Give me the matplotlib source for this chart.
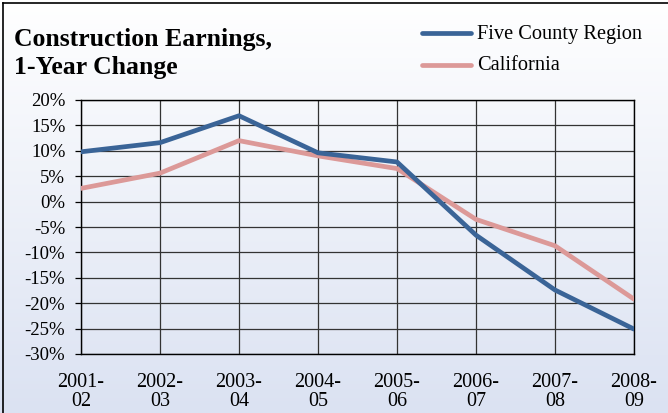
import numpy as np
import matplotlib
matplotlib.use("Agg")
import matplotlib.pyplot as plt
from matplotlib.lines import Line2D

categories = ["2001-\n02", "2002-\n03", "2003-\n04", "2004-\n05",
              "2005-\n06", "2006-\n07", "2007-\n08", "2008-\n09"]
five_county = [9.8, 11.6, 16.9, 9.6, 7.8, -6.6, -17.4, -25.1]
california = [2.6, 5.6, 12.0, 9.0, 6.5, -3.5, -8.7, -19.2]
yticks = [20, 15, 10, 5, 0, -5, -10, -15, -20, -25, -30]

plt.rcParams['font.family'] = ['Liberation Serif', 'DejaVu Serif']

W, H = 668, 413
fig = plt.figure(figsize=(W / 100, H / 100), dpi=100)

# gradient background
bg = fig.add_axes([0, 0, 1, 1], zorder=-10)
top = np.array([1.0, 1.0, 1.0])
bot = np.array([0xdb, 0xe2, 0xf2]) / 255.0
t = np.linspace(0, 1, 256)[:, None]
grad = top * (1 - t) + bot * t
bg.imshow(grad[:, None, :], aspect='auto', extent=[0, 1, 0, 1], origin='upper')
bg.set_xlim(0, 1); bg.set_ylim(0, 1)
bg.axis('off')
# frame lines at top and left
bg.add_line(Line2D([3 / W, 1], [1 - 3 / H, 1 - 3 / H], color='black', lw=1.2))
bg.add_line(Line2D([3 / W, 3 / W], [0, 1 - 3 / H], color='black', lw=1.2))

x0, x1 = 81, 634
y0, y1 = 100, 354
ax = fig.add_axes([x0 / W, 1 - y1 / H, (x1 - x0) / W, (y1 - y0) / H])
ax.patch.set_alpha(0)
x = np.arange(len(categories))
ax.plot(x, five_county, color='#3a6497', lw=3.4, solid_capstyle='round', zorder=4,
        label='Five County Region')
ax.plot(x, california, color='#dc9998', lw=3.4, solid_capstyle='round', zorder=3,
        label='California')
ax.set_xlim(0, len(categories) - 1)
ax.set_ylim(-30, 20)
ax.set_yticks(yticks)
ax.set_yticklabels([f"{v}%" for v in yticks], fontsize=13.5)
ax.set_xticks(x)
ax.set_xticklabels(categories, fontsize=14.5, linespacing=1.0)
ax.grid(True, color='#333333', lw=0.9)
ax.set_axisbelow(True)
ax.tick_params(axis='y', length=4.3, width=0.9, pad=7, direction='out')
ax.tick_params(axis='x', length=0, pad=13.5)
for s in ax.spines.values():
    s.set_color('black')
    s.set_linewidth(1.0)

fig.text(14 / W, 1 - 46 / H, "Construction Earnings,", fontsize=18.5,
         fontweight='bold', ha='left', va='baseline')
fig.text(14 / W, 1 - 74 / H, "1-Year Change", fontsize=18.5,
         fontweight='bold', ha='left', va='baseline')

# legend
for yy, ty, col, lab in [(32.5, 39, '#3a6497', 'Five County Region'),
                         (64.5, 70, '#dc9998', 'California')]:
    bg.add_line(Line2D([422 / W, 471 / W], [1 - yy / H, 1 - yy / H], color=col, lw=3.4,
                       solid_capstyle='round'))
    fig.text(477 / W, 1 - ty / H, lab, fontsize=14.7, ha='left', va='baseline')

fig.savefig('out.png', dpi=100)
